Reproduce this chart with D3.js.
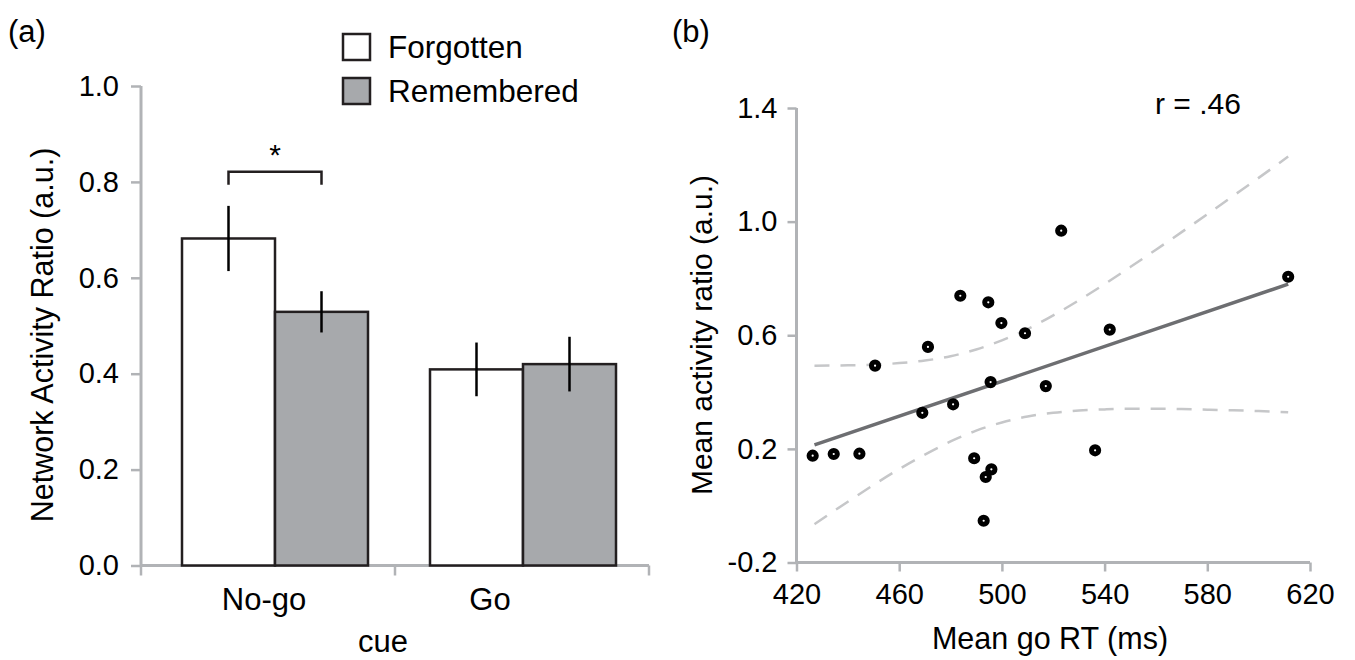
<!DOCTYPE html>
<html><head><meta charset="utf-8">
<script src="https://cdn.jsdelivr.net/npm/d3@7"></script>
<style>
body{margin:0;background:#fff;}
text{font-family:"Liberation Sans",Arial,Helvetica,sans-serif;fill:#000;}
</style></head>
<body>
<svg id="chart" width="1355" height="660"></svg>
<script>
// ---------- Panel (a) data ----------
const cues = ["No-go", "Go"];
const conditions = ["Forgotten", "Remembered"];
const forgottenMeans = [0.682, 0.409];
const rememberedMeans = [0.529, 0.420];
const forgottenErr = [0.068, 0.056];
const rememberedErr = [0.043, 0.057];
const barTicks = [0.0, 0.2, 0.4, 0.6, 0.8, 1.0];

// ---------- Panel (b) data ----------
const goRT = [426.3, 434.5, 444.5, 450.6, 471.2, 469.0, 481.0, 483.8, 494.7, 499.8, 509.0,
              523.1, 542.0, 495.6, 517.1, 489.2, 495.9, 493.7, 492.9, 536.3, 611.5];
const activity = [0.176, 0.182, 0.183, 0.493, 0.559, 0.327, 0.357, 0.739, 0.716, 0.643, 0.607,
                  0.968, 0.620, 0.435, 0.421, 0.167, 0.128, 0.101, -0.053, 0.195, 0.806];
const fitX = [427, 611.5];
const fitY = [0.214, 0.780];
const bandX = [427, 440, 450, 460, 470, 480, 490, 500, 510, 520, 530, 540, 550, 560, 570, 580, 590, 600, 611.5];
const bandUpper = [0.493, 0.494, 0.496, 0.502, 0.511, 0.526, 0.550, 0.582, 0.622, 0.670, 0.723, 0.780, 0.840, 0.901, 0.963, 1.026, 1.090, 1.154, 1.229];
const bandLower = [-0.065, 0.014, 0.073, 0.129, 0.180, 0.226, 0.264, 0.293, 0.314, 0.327, 0.335, 0.339, 0.341, 0.341, 0.340, 0.338, 0.336, 0.333, 0.329];
const rtTicks = [420, 460, 500, 540, 580, 620];
const actTicks = [-0.2, 0.2, 0.6, 1.0, 1.4];

const svg = d3.select("#chart");
const axisGray = "#b1b3b6";
const barStroke = "#231f20";
const grayFill = "#a7a9ac";
const fmt1 = v => d3.format(".1f")(v).replace("\u2212", "-");

// ================= Panel (a) =================
const a = svg.append("g");
const yA = d3.scaleLinear().domain([0, 1]).range([565.5, 86]);
const xA = d3.scaleBand().domain(cues).range([141, 649]);
const xInner = d3.scaleBand().domain(conditions).range([0, 186]);
const groupShift = [41, 35];   // offset of each bar group inside its category band
const labelShift = [-4, -32];  // category label offset from band centre

// y axis
const yAxisA = a.append("g").attr("transform", "translate(141,0)")
  .call(d3.axisLeft(yA).tickValues(barTicks).tickFormat(fmt1).tickSize(10).tickPadding(12));
yAxisA.select(".domain").remove();
a.append("line").attr("x1", 141).attr("x2", 141).attr("y1", yA(1)).attr("y2", yA(0) + 1)
  .attr("stroke", axisGray).attr("stroke-width", 3);

// x axis
a.append("line").attr("x1", 141).attr("x2", 649).attr("y1", yA(0)).attr("y2", yA(0))
  .attr("stroke", axisGray).attr("stroke-width", 3);
const catBounds = [xA(cues[0]), xA(cues[1]), xA(cues[1]) + xA.bandwidth()];
a.selectAll(".xtickA").data(catBounds).enter().append("line")
  .attr("x1", d => d).attr("x2", d => d).attr("y1", yA(0)).attr("y2", yA(0) + 10)
  .attr("stroke", axisGray).attr("stroke-width", 2.5);

// bars
const barData = [];
cues.forEach((c, i) => {
  barData.push({cue: c, gi: i, cond: "Forgotten", v: forgottenMeans[i], e: forgottenErr[i]});
  barData.push({cue: c, gi: i, cond: "Remembered", v: rememberedMeans[i], e: rememberedErr[i]});
});
const bx = d => xA(d.cue) + groupShift[d.gi] + xInner(d.cond);
a.selectAll(".bar").data(barData).enter().append("rect")
  .attr("x", bx).attr("y", d => yA(d.v))
  .attr("width", xInner.bandwidth()).attr("height", d => yA(0) - yA(d.v))
  .attr("fill", d => d.cond === "Forgotten" ? "#fff" : grayFill)
  .attr("stroke", barStroke).attr("stroke-width", 2.5);
a.selectAll(".err").data(barData).enter().append("line")
  .attr("x1", d => bx(d) + xInner.bandwidth() / 2).attr("x2", d => bx(d) + xInner.bandwidth() / 2)
  .attr("y1", d => yA(d.v + d.e)).attr("y2", d => yA(d.v - d.e))
  .attr("stroke", "#000").attr("stroke-width", 2.5);

// significance bracket
const b0 = barData[0], b1 = barData[1];
const cx0 = bx(b0) + xInner.bandwidth() / 2, cx1 = bx(b1) + xInner.bandwidth() / 2;
a.append("path")
  .attr("d", `M${cx0},${yA(0.794)} V${yA(0.821)} H${cx1} V${yA(0.794)}`)
  .attr("fill", "none").attr("stroke", barStroke).attr("stroke-width", 2.5);
a.append("text").attr("x", (cx0 + cx1) / 2).attr("y", 165).attr("text-anchor", "middle")
  .style("font-size", "30px").text("*");

// category labels
cues.forEach((c, i) => {
  a.append("text").attr("x", xA(c) + xA.bandwidth() / 2 + labelShift[i]).attr("y", 610)
    .attr("text-anchor", "middle").style("font-size", "31px").text(c);
});
a.append("text").attr("x", 383).attr("y", 652).attr("text-anchor", "middle").style("font-size", "31px").text("cue");

// y label
a.append("text").attr("transform", "translate(53,335) rotate(-90)").attr("text-anchor", "middle")
  .style("font-size", "30.5px").text("Network Activity Ratio (a.u.)");
a.append("text").attr("x", 8).attr("y", 42).style("font-size", "31px").text("(a)");

// legend
conditions.forEach((c, i) => {
  a.append("rect").attr("x", 343).attr("y", 34 + i * 44).attr("width", 27).attr("height", 26)
    .attr("fill", i === 0 ? "#fff" : grayFill).attr("stroke", barStroke).attr("stroke-width", 2.5);
  a.append("text").attr("x", 388).attr("y", 58 + i * 44).style("font-size", "31.5px").text(c);
});

// ================= Panel (b) =================
const b = svg.append("g");
const xB = d3.scaleLinear().domain([420, 620]).range([796.5, 1310]);
const yB = d3.scaleLinear().domain([-0.2, 1.4]).range([562.5, 108]);

const yAxisB = b.append("g").attr("transform", "translate(796.5,0)")
  .call(d3.axisLeft(yB).tickValues(actTicks).tickFormat(fmt1).tickSize(9).tickPadding(10));
yAxisB.select(".domain").remove();
b.append("line").attr("x1", 796.5).attr("x2", 796.5).attr("y1", yB(1.4)).attr("y2", yB(-0.2) + 1)
  .attr("stroke", axisGray).attr("stroke-width", 3);
const xAxisB = b.append("g").attr("transform", "translate(0,562.5)")
  .call(d3.axisBottom(xB).tickValues(rtTicks).tickFormat(d3.format("d")).tickSize(9).tickPadding(12));
xAxisB.select(".domain").remove();
b.append("line").attr("x1", 795).attr("x2", 1310).attr("y1", 562.5).attr("y2", 562.5)
  .attr("stroke", axisGray).attr("stroke-width", 3);

// style axes
svg.selectAll(".tick line").attr("stroke", axisGray).attr("stroke-width", 2.5);
svg.selectAll(".tick text").style("font-size", "29px").attr("fill", "#000")
  .style("font-family", "'Liberation Sans',Arial,sans-serif");

// confidence bands
const bandLine = d3.line().curve(d3.curveMonotoneX);
const upperPts = bandX.map((x, i) => [xB(x), yB(bandUpper[i])]);
const lowerPts = bandX.map((x, i) => [xB(x), yB(bandLower[i])]);
[upperPts, lowerPts].forEach(p => {
  b.append("path").attr("d", bandLine(p)).attr("fill", "none")
    .attr("stroke", "#c6c7c9").attr("stroke-width", 2.5).attr("stroke-dasharray", "15,11");
});
// fit line
b.append("line").attr("x1", xB(fitX[0])).attr("y1", yB(fitY[0]))
  .attr("x2", xB(fitX[1])).attr("y2", yB(fitY[1]))
  .attr("stroke", "#6d6e71").attr("stroke-width", 3.5);

// points
b.selectAll(".pt").data(goRT.map((x, i) => [x, activity[i]])).enter().append("circle")
  .attr("cx", d => xB(d[0])).attr("cy", d => yB(d[1])).attr("r", 3.6)
  .attr("fill", "#fff").attr("stroke", "#000").attr("stroke-width", 5);

b.append("text").attr("x", 1155).attr("y", 114).style("font-size", "30px").text("r = .46");
b.append("text").attr("x", 1050).attr("y", 649).attr("text-anchor", "middle").style("font-size", "30.5px").text("Mean go RT (ms)");
b.append("text").attr("transform", "translate(712,335) rotate(-90)").attr("text-anchor", "middle")
  .style("font-size", "30px").text("Mean activity ratio (a.u.)");
b.append("text").attr("x", 672).attr("y", 42).style("font-size", "31px").text("(b)");
</script>
</body></html>
